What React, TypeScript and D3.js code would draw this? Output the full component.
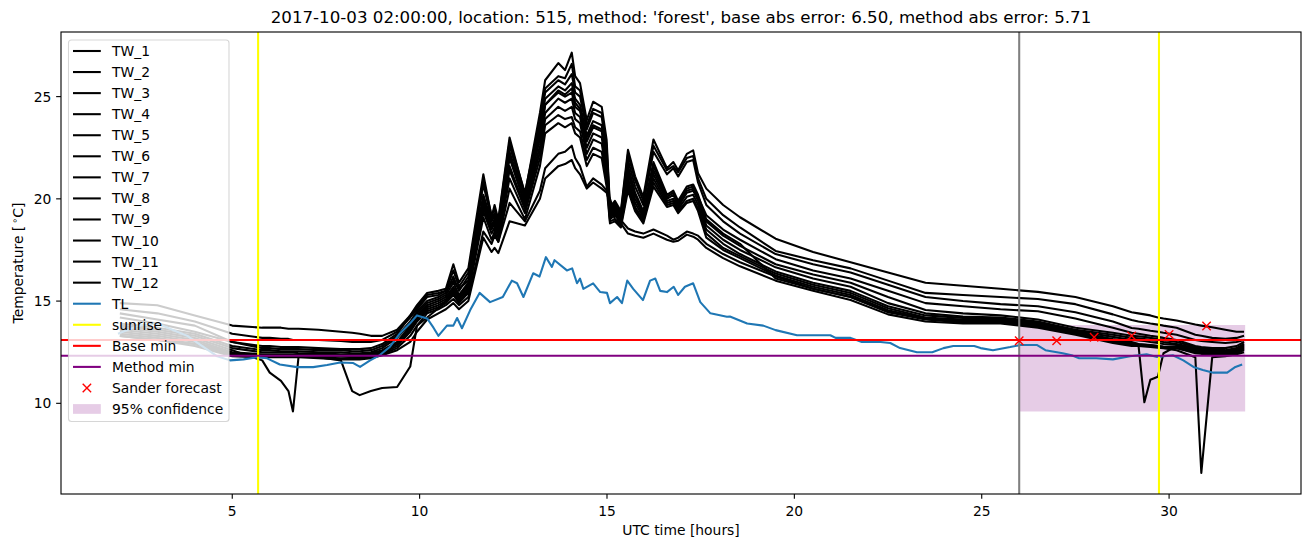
import React from 'react';
import * as d3 from 'd3';

// ---------- data ----------
const twHours = [
  2, 3, 4, 5, 5.8, 6.0, 6.3, 6.5, 6.62, 6.77,
  7.3, 7.9, 8.2, 8.4, 8.7, 9.0, 9.4, 9.75, 9.93, 10.2,
  10.5, 10.7, 10.9, 11.05, 11.3, 11.7, 11.92, 12.0, 12.1, 12.4,
  12.81, 13.21, 13.35, 13.7, 13.88, 14.06, 14.15, 14.28, 14.46, 14.63,
  14.86, 14.99, 15.08, 15.21, 15.37, 15.56, 15.75, 15.97, 16.24, 16.6,
  16.77, 16.9, 17.13, 17.3, 17.43, 17.65, 18.1, 18.55, 19.5, 20.5,
  21.5, 22.5, 23.5, 24.5, 25.5, 26.5, 27.5, 28.5, 29.0, 29.18,
  29.34, 29.5, 29.7, 29.85, 30.2, 30.7, 30.86, 31.15, 31.5, 31.8, 32,
];

const tw1 = [
  14.2, 13.9, 13.5, 13.0, 12.8, 12.8, 12.75, 12.75, 12.75, 12.75,
  12.7, 12.65, 12.65, 12.65, 12.7, 12.9, 13.4, 14.3, 14.8, 15.4,
  15.5, 15.6, 16.8, 15.9, 16.6, 21.2, 19.1, 19.7, 19.0, 23.0,
  20.2, 24.2, 25.8, 26.64, 26.3, 27.15, 26.0, 25.66, 23.85, 24.75,
  24.5, 22.9, 19.6, 19.9, 19.4, 22.4, 21.1, 20.1, 22.9, 21.5,
  21.8, 21.4, 22.2, 22.37, 21.25, 20.5, 19.7, 19.1, 18.05, 17.4,
  16.9, 16.4, 15.9, 15.75, 15.6, 15.45, 15.2, 14.75, 14.45, 14.4,
  14.35, 14.3, 14.2, 14.15, 14.05, 13.85, 13.8, 13.72, 13.6, 13.5, 13.5,
];
const tw2 = [
  14.6, 14.4, 14.0, 13.4, 13.2, 13.2, 13.15, 13.15, 13.1, 13.1,
  13.1, 13.05, 13.0, 13.0, 13.0, 13.1, 13.5, 14.2, 14.6, 15.2,
  15.3, 15.5, 16.5, 15.7, 16.4, 20.9, 19.2, 19.5, 18.9, 22.8,
  20.3, 23.8, 25.4, 26.0, 25.9, 26.6, 25.5, 25.3, 23.6, 24.4,
  24.2, 22.6, 19.5, 19.8, 19.3, 22.2, 20.9, 19.9, 22.6, 21.4,
  21.6, 21.3, 22.0, 22.1, 21.0, 20.0, 19.2, 18.6, 17.45, 17.0,
  16.6, 16.0, 15.4, 15.3, 15.2, 15.1, 14.85, 14.35, 14.07, 14.0,
  13.95, 13.9, 13.85, 13.8, 13.7, 13.35, 13.3, 13.2, 13.15, 13.2, 13.3,
];
const tw3 = [
  14.4, 14.1, 13.8, 13.0, 12.7, 12.7, 12.65, 12.65, 12.65, 12.65,
  12.6, 12.6, 12.55, 12.55, 12.6, 12.8, 13.3, 14.0, 14.5, 15.0,
  15.2, 15.4, 16.2, 15.5, 16.2, 20.7, 19.0, 19.3, 18.7, 22.6,
  20.1, 23.6, 25.2, 25.8, 25.6, 26.1, 25.2, 25.0, 23.4, 24.2,
  24.0, 22.3, 19.4, 19.7, 19.2, 21.9, 20.6, 19.7, 22.3, 21.2,
  21.5, 21.1, 21.8, 21.9, 20.8, 19.7, 18.9, 18.3, 17.3, 16.8,
  16.4, 15.8, 15.2, 15.0, 14.85, 14.75, 14.45, 14.0, 13.68, 13.65,
  13.6, 13.55, 13.5, 13.45, 13.35, 13.1, 13.05, 13.0, 12.95, 13.0, 13.1,
];
const tw4 = [
  14.9, 14.8, 14.3, 13.8, 13.7, 13.7, 13.7, 13.65, 13.65, 13.65,
  13.6, 13.5, 13.45, 13.4, 13.3, 13.3, 13.6, 14.3, 14.7, 15.3,
  15.4, 15.5, 16.0, 15.6, 16.0, 20.2, 18.9, 19.2, 18.6, 22.3,
  20.0, 23.3, 24.9, 25.5, 25.3, 25.66, 24.9, 24.6, 23.1, 23.8,
  23.6, 22.0, 19.3, 19.5, 19.1, 21.5, 20.2, 19.3, 21.6, 20.1,
  20.3, 19.8, 20.5, 20.6, 20.1, 19.2, 18.5, 18.0, 17.05, 16.5,
  16.1, 15.5, 14.9, 14.75, 14.6, 14.5, 14.15, 13.7, 13.45, 13.4,
  13.35, 13.3, 13.25, 13.2, 13.1, 12.8, 12.75, 12.7, 12.7, 12.8, 13.0,
];
const tw5 = [
  13.9, 13.7, 13.4, 12.8, 12.6, 12.6, 12.55, 12.55, 12.55, 12.55,
  12.5, 12.5, 12.45, 12.45, 12.5, 12.7, 13.2, 13.9, 14.4, 14.9,
  15.1, 15.3, 15.9, 15.3, 15.9, 20.0, 18.7, 19.0, 18.5, 22.0,
  19.8, 23.0, 24.6, 25.2, 25.0, 25.2, 24.5, 24.3, 22.8, 23.5,
  23.3, 21.7, 19.2, 19.4, 19.0, 21.3, 20.0, 19.2, 21.4, 20.0,
  20.2, 19.7, 20.4, 20.5, 20.0, 18.9, 18.2, 17.7, 16.8, 16.3,
  15.9, 15.2, 14.56, 14.4, 14.3, 14.1, 13.7, 13.45, 13.3, 13.28,
  13.25, 13.2, 13.15, 13.1, 13.0, 12.75, 12.7, 12.65, 12.6, 12.7, 12.9,
];
const tw6 = [
  13.8, 13.6, 13.3, 12.7, 12.5, 12.5, 12.5, 12.5, 12.5, 12.45,
  12.45, 12.4, 12.4, 12.4, 12.45, 12.6, 13.0, 13.8, 14.3, 14.8,
  15.0, 15.2, 15.7, 15.2, 15.8, 19.8, 18.6, 18.9, 18.4, 21.6,
  19.6, 22.6, 24.2, 24.9, 24.7, 24.9, 24.2, 24.0, 22.5, 23.2,
  23.0, 21.4, 19.1, 19.3, 18.9, 21.0, 19.8, 19.1, 21.2, 19.9,
  20.0, 19.6, 20.3, 20.4, 19.9, 18.7, 18.0, 17.5, 16.65, 16.1,
  15.7, 14.9, 14.4, 14.25, 14.2, 14.0, 13.6, 13.35, 13.2, 13.18,
  13.15, 13.1, 13.05, 13.0, 12.9, 12.7, 12.65, 12.6, 12.55, 12.65, 12.85,
];
const tw7 = [
  13.7, 13.5, 13.2, 12.6, 12.1, 11.5, 11.1, 10.6, 9.6, 12.3,
  12.4, 12.35, 12.35, 12.35, 12.4, 12.55, 12.9, 13.7, 14.2, 14.7,
  14.9, 15.1, 15.6, 15.1, 15.7, 19.6, 18.5, 18.8, 18.3, 21.4,
  19.5, 22.3, 23.9, 24.5, 24.3, 24.5, 23.9, 23.7, 22.2, 22.9,
  22.7, 21.2, 19.0, 19.2, 18.8, 20.8, 19.6, 19.0, 21.0, 19.8,
  19.9, 19.5, 20.1, 20.2, 19.7, 18.5, 17.8, 17.3, 16.45, 15.9,
  15.5, 14.75, 14.3, 14.18, 14.15, 13.95, 13.55, 13.25, 13.1, 13.08,
  13.05, 13.0, 12.95, 12.9, 12.85, 12.65, 12.6, 12.55, 12.5, 12.6, 12.8,
];
const tw8 = [
  13.6, 13.4, 13.1, 12.5, 12.4, 12.4, 12.4, 12.4, 12.4, 12.4,
  12.35, 12.3, 12.3, 12.3, 12.35, 12.5, 12.9, 13.6, 14.1, 14.6,
  14.8, 15.0, 15.4, 15.0, 15.5, 19.4, 18.3, 18.6, 18.1, 21.0,
  19.3, 22.0, 23.6, 24.1, 23.9, 24.0, 23.5, 23.3, 21.9, 22.5,
  22.3, 20.9, 18.9, 19.0, 18.7, 20.6, 19.5, 18.9, 20.8, 19.7,
  19.8, 19.4, 19.9, 20.0, 19.5, 18.3, 17.6, 17.2, 16.35, 15.8,
  15.4, 14.65, 14.2, 14.1, 14.1, 13.9, 13.5, 13.15, 13.0, 12.9,
  10.05, 11.15, 11.3, 12.45, 12.8, 12.6, 12.55, 12.5, 12.45, 12.55, 12.75,
];
const tw9 = [
  13.5, 13.3, 13.0, 12.45, 12.35, 12.35, 12.35, 12.35, 12.35, 12.35,
  12.3, 12.3, 12.25, 12.25, 12.3, 12.45, 12.8, 13.5, 14.0, 14.5,
  14.7, 14.9, 15.3, 14.9, 15.4, 19.1, 18.0, 18.4, 17.9, 20.5,
  19.0, 21.6, 23.2, 23.7, 23.5, 23.7, 23.2, 23.0, 21.6, 22.2,
  22.0, 20.6, 18.8, 18.9, 18.6, 20.4, 19.4, 18.8, 20.6, 19.6,
  19.7, 19.3, 19.8, 19.9, 19.4, 18.1, 17.5, 17.1, 16.25, 15.7,
  15.3, 14.55, 14.15, 14.05, 14.05, 13.85, 13.45, 13.1, 12.95, 12.9,
  12.88, 12.85, 12.8, 12.78, 12.75, 12.55, 12.5, 12.45, 12.42, 12.5, 12.7,
];
const tw10 = [
  13.3, 13.1, 12.9, 12.4, 12.3, 12.3, 12.3, 12.3, 12.3, 12.3,
  12.25, 12.1, 10.6, 10.4, 10.6, 10.75, 10.8, 11.8, 13.8, 14.2,
  14.65, 15.0, 15.5, 15.1, 15.6, 19.9, 18.6, 19.0, 18.4, 22.1,
  19.7, 23.0, 24.6, 25.3, 25.1, 25.4, 24.7, 24.4, 23.0, 23.6,
  23.4, 21.9, 19.3, 19.6, 19.1, 21.6, 20.3, 19.4, 21.8, 20.2,
  20.4, 19.9, 20.6, 20.7, 20.2, 19.0, 18.3, 17.8, 16.1, 15.6,
  15.2, 14.5, 14.12, 14.0, 14.0, 13.8, 13.4, 13.05, 12.9, 12.88,
  12.86, 12.84, 12.8, 12.75, 12.7, 12.5, 12.45, 12.4, 12.4, 12.45, 12.65,
];
const tw11 = [
  13.4, 13.2, 12.9, 12.35, 12.3, 12.3, 12.3, 12.3, 12.3, 12.3,
  12.25, 12.2, 12.2, 12.2, 12.25, 12.4, 12.7, 13.3, 13.8, 14.4,
  14.6, 14.8, 15.1, 14.8, 15.2, 18.4, 17.8, 18.2, 17.9, 19.8,
  18.9, 20.4, 21.5, 22.2, 22.3, 22.6, 22.0, 21.6, 20.6, 21.0,
  20.7, 20.4, 20.0, 19.3, 18.96, 18.55, 18.4, 18.3, 18.5, 18.2,
  18.0, 18.1, 18.4, 18.3, 18.2, 17.8, 17.3, 16.9, 16.2, 15.6,
  15.2, 14.45, 14.1, 13.95, 13.95, 13.75, 13.4, 13.0, 12.86, 12.85,
  12.83, 12.8, 12.78, 12.75, 12.7, 12.45, 12.42, 12.4, 12.38, 12.45, 12.6,
];
const tw12 = [
  13.3, 13.1, 12.8, 12.3, 12.25, 12.25, 12.25, 12.25, 12.25, 12.25,
  12.2, 12.15, 12.15, 12.15, 12.2, 12.35, 12.6, 13.0, 13.5, 14.1,
  14.4, 14.6, 14.9, 14.6, 15.0, 18.1, 17.4, 17.6, 17.35, 18.9,
  18.7, 20.0, 21.0, 21.6, 21.7, 21.9, 21.5, 21.2, 20.5, 20.8,
  20.5, 20.3, 19.8, 19.0, 18.8, 18.3, 18.2, 18.1, 18.3, 18.0,
  17.9, 17.95, 18.25, 18.15, 18.0, 17.6, 17.1, 16.7, 16.0, 15.5,
  15.05, 14.35, 14.0, 13.9, 13.9, 13.7, 13.35, 12.95, 12.8, 12.8,
  12.78, 12.75, 12.72, 12.7, 12.6, 12.25, 6.6, 12.25, 12.3, 12.4, 12.5,
];
const twSeries = [tw1, tw2, tw3, tw4, tw5, tw6, tw7, tw8, tw9, tw10, tw11, tw12];

const tlHours = [
  1.95, 2.5, 3.0, 3.4, 3.8, 4.2, 4.6, 4.94, 5.3, 5.66, 5.93, 6.27, 6.73, 7.16, 7.53,
  7.88, 8.23, 8.41, 8.68, 8.94, 9.21, 9.48, 9.74, 9.93, 10.2, 10.37, 10.5, 10.73, 10.9,
  11.0, 11.13, 11.35, 11.6, 11.88, 12.22, 12.46, 12.6, 12.77, 13.03, 13.2, 13.37, 13.53,
  13.6, 13.93, 14.07, 14.2, 14.28, 14.37, 14.63, 14.82, 15.0, 15.08, 15.27, 15.4, 15.54,
  15.7, 15.96, 16.15, 16.29, 16.42, 16.6, 16.78, 16.9, 17.08, 17.3, 17.49, 17.76, 18.2,
  18.28, 18.74, 19.17, 19.5, 20.07, 20.96, 21.1, 21.5, 21.8, 22.3, 22.56, 22.82, 23.27,
  23.68, 23.98, 24.24, 24.8, 24.97, 25.3, 25.76, 26.03, 26.48, 26.7, 27.16, 27.4, 27.6,
  28.06, 28.5, 28.96, 29.4, 29.68, 30.1, 30.38, 30.65, 30.9, 31.18, 31.55, 31.77, 31.95,
];
const tlTemps = [
  13.4, 13.8, 13.9, 13.6, 13.3, 12.8, 12.3, 12.1, 12.15, 12.25, 12.2, 11.9, 11.77, 11.77, 11.87,
  12.0, 11.97, 11.78, 12.1, 12.36, 12.77, 13.43, 13.9, 14.3, 14.15, 13.7, 13.3, 13.8, 13.8,
  14.17, 13.67, 14.56, 15.4, 14.95, 15.2, 16.0, 15.87, 15.2, 16.36, 16.2, 17.15, 16.67,
  17.0, 16.5, 16.6, 15.87, 16.1, 15.6, 15.87, 15.44, 15.4, 14.9, 15.2, 14.9, 16.0,
  15.6, 15.05, 16.0, 16.1, 15.5, 15.44, 15.7, 15.3, 15.7, 15.87, 14.95, 14.4, 14.23,
  14.25, 13.9, 13.8, 13.58, 13.33, 13.33, 13.2, 13.2, 13.0, 13.0, 12.95, 12.7, 12.5,
  12.5, 12.7, 12.8, 12.8, 12.7, 12.6, 12.75, 12.85, 12.85, 12.6, 12.45, 12.35, 12.2,
  12.2, 12.15, 12.3, 12.4, 12.27, 12.35, 12.1, 11.78, 11.63, 11.5, 11.5, 11.78, 11.9,
];

const sunriseHours = [5.69, 29.73];
const forecastHour = 26.0;
const baseMin = 13.1;
const methodMin = 12.33;
const sanderHours = [26, 27, 28, 29, 30, 31];
const sanderTemps = [13.06, 13.06, 13.23, 13.3, 13.37, 13.78];
const confHours = [26.0, 32.03];
const confLow = [9.6, 9.6];
const confHigh = [13.83, 13.83];

const xTicks = [5, 10, 15, 20, 25, 30];
const yTicks = [10, 15, 20, 25];
const legendLabels = [
  'TW_1', 'TW_2', 'TW_3', 'TW_4', 'TW_5', 'TW_6', 'TW_7', 'TW_8', 'TW_9', 'TW_10',
  'TW_11', 'TW_12', 'TL', 'sunrise', 'Base min', 'Method min', 'Sander forecast', '95% confidence',
];
const titleText =
  "2017-10-03 02:00:00, location: 515, method: 'forest', base abs error: 6.50, method abs error: 5.71";

// ---------- chart ----------
const FONT = 'DejaVu Sans, sans-serif';
const L = 61, R = 1301, T = 32, B = 494;
const FS = 13.89; // 10pt at 100 dpi
const LW = 2.08; // 1.5pt
const TICK = 4.86;

export default function App() {
  const x = d3.scaleLinear().domain([0.43, 33.52]).range([L, R]);
  const y = d3.scaleLinear().domain([5.565, 28.16]).range([B, T]);
  const line = d3
    .line<[number, number]>()
    .x((d) => x(d[0]))
    .y((d) => y(d[1]));
  const area = d3
    .area<number>()
    .x((_, i) => x(confHours[i]))
    .y0((_, i) => y(confLow[i]))
    .y1((_, i) => y(confHigh[i]));

  const twPaths = twSeries.map((s) => line(twHours.map((h, i) => [h, s[i]] as [number, number])) || '');
  const tlPath = line(tlHours.map((h, i) => [h, tlTemps[i]] as [number, number])) || '';

  const legX0 = 68.5, legY0 = 40, legW = 160.5, legH = 381.5;
  const rowY = (i: number) => 51 + i * 21.06;
  const lineColors: Record<string, string> = {
    TL: '#1f77b4', sunrise: 'yellow', 'Base min': 'red', 'Method min': 'purple',
  };

  return (
    <svg
      width={1310}
      height={547}
      style={{ position: 'absolute', left: 0, top: 0, background: '#fff' }}
      fontFamily={FONT}
    >
      <rect x={0} y={0} width={1310} height={547} fill="#fff" />
      <defs>
        <clipPath id="plotclip">
          <rect x={L} y={T} width={R - L} height={B - T} />
        </clipPath>
      </defs>
      <g clipPath="url(#plotclip)">
        <path d={area(confHours) || ''} fill="purple" fillOpacity={0.2} />
        {twPaths.map((d, i) => (
          <path key={i} d={d} fill="none" stroke="#000" strokeWidth={LW} strokeLinejoin="round" />
        ))}
        <path d={tlPath} fill="none" stroke="#1f77b4" strokeWidth={LW} strokeLinejoin="round" />
        {sunriseHours.map((h, i) => (
          <line key={i} x1={x(h)} x2={x(h)} y1={T} y2={B} stroke="yellow" strokeWidth={LW} />
        ))}
        <line x1={x(forecastHour)} x2={x(forecastHour)} y1={T} y2={B} stroke="grey" strokeWidth={LW} />
        <line x1={L} x2={R} y1={y(baseMin)} y2={y(baseMin)} stroke="red" strokeWidth={LW} />
        <line x1={L} x2={R} y1={y(methodMin)} y2={y(methodMin)} stroke="purple" strokeWidth={LW} />
        {sanderHours.map((h, i) => {
          const cx = x(h), cy = y(sanderTemps[i]);
          return (
            <g key={i} stroke="red" strokeWidth={1.39}>
              <line x1={cx - 4.2} y1={cy - 4.2} x2={cx + 4.2} y2={cy + 4.2} />
              <line x1={cx - 4.2} y1={cy + 4.2} x2={cx + 4.2} y2={cy - 4.2} />
            </g>
          );
        })}
      </g>

      {/* axes frame */}
      <rect x={L} y={T} width={R - L} height={B - T} fill="none" stroke="#000" strokeWidth={1.11} />

      {/* x ticks */}
      {xTicks.map((t) => (
        <g key={t}>
          <line x1={x(t)} x2={x(t)} y1={B} y2={B + TICK} stroke="#000" strokeWidth={1.11} />
          <text x={x(t)} y={515.5} fontSize={FS} textAnchor="middle" fill="#000">
            {t}
          </text>
        </g>
      ))}
      {/* y ticks */}
      {yTicks.map((t) => (
        <g key={t}>
          <line x1={L - TICK} x2={L} y1={y(t)} y2={y(t)} stroke="#000" strokeWidth={1.11} />
          <text x={51.3} y={y(t) + 5} fontSize={FS} textAnchor="end" fill="#000">
            {t}
          </text>
        </g>
      ))}

      <text x={(L + R) / 2} y={534.5} fontSize={FS} textAnchor="middle" fill="#000">
        UTC time [hours]
      </text>
      <text
        transform={`translate(23, ${(T + B) / 2}) rotate(-90)`}
        fontSize={FS}
        textAnchor="middle"
        fill="#000"
      >
        Temperature [
        <tspan fontSize={9.7} dx={2} dy={-5.5}>
          {'\u2218'}
        </tspan>
        <tspan dy={5.5}>C]</tspan>
      </text>
      <text x={(L + R) / 2} y={23} fontSize={16.67} textAnchor="middle" fill="#000">
        {titleText}
      </text>

      {/* legend */}
      <rect
        x={legX0}
        y={legY0}
        width={legW}
        height={legH}
        rx={3}
        fill="#fff"
        fillOpacity={0.8}
        stroke="#cccccc"
        strokeOpacity={0.8}
        strokeWidth={1.11}
      />
      {legendLabels.map((lab, i) => {
        const cy = rowY(i);
        let handle: React.ReactNode;
        if (lab === 'Sander forecast') {
          handle = (
            <g stroke="red" strokeWidth={1.39}>
              <line x1={86.9 - 4.2} y1={cy - 4.2} x2={86.9 + 4.2} y2={cy + 4.2} />
              <line x1={86.9 - 4.2} y1={cy + 4.2} x2={86.9 + 4.2} y2={cy - 4.2} />
            </g>
          );
        } else if (lab === '95% confidence') {
          handle = <rect x={73} y={cy - 4.9} width={27.8} height={9.7} fill="purple" fillOpacity={0.2} />;
        } else {
          handle = (
            <line x1={73} x2={100.8} y1={cy} y2={cy} stroke={lineColors[lab] || '#000'} strokeWidth={LW} />
          );
        }
        return (
          <g key={lab}>
            {handle}
            <text x={112} y={cy + 5} fontSize={FS} fill="#000">
              {lab}
            </text>
          </g>
        );
      })}
    </svg>
  );
}
